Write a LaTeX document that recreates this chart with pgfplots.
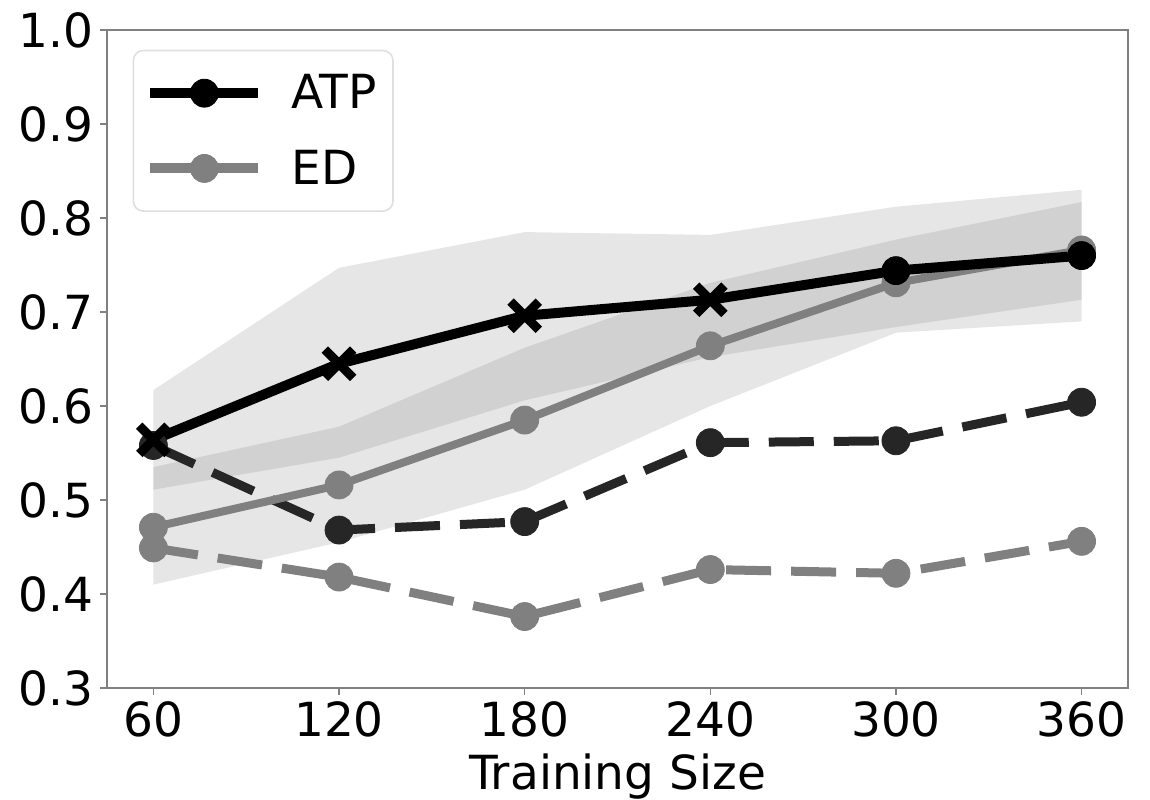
\documentclass[border=0pt]{standalone}
\usepackage{pgfplots}
\pgfplotsset{compat=1.18}
\usepgfplotslibrary{fillbetween}
\usepackage{fontspec}
\setmainfont{DejaVu Sans}
\definecolor{atpd}{HTML}{262626}
\definecolor{edg}{HTML}{808080}
\begin{document}
\begin{tikzpicture}
\begin{axis}[
  scale only axis,
  width=510.5pt, height=329pt,
  xmin=45, xmax=375, ymin=0.3, ymax=1.0,
  xtick={60,120,180,240,300,360},
  ytick={0.3,0.4,0.5,0.6,0.7,0.8,0.9,1.0},
  yticklabel style={/pgf/number format/.cd,fixed,fixed zerofill,precision=1},
  /pgf/number format/assume math mode=true,
  tick label style={font=\fontsize{23.5}{28}\selectfont},
  label style={font=\fontsize{23.5}{28}\selectfont},
  xlabel={Training Size},
  xlabel style={yshift=-1pt},
  tick align=outside,
  major tick length=3.5pt,
  axis line style={draw=gray, line width=0.8pt},
  tick style={draw=gray, line width=0.8pt},
  xtick pos=bottom, ytick pos=left,
  legend style={at={(0.025,0.97)}, anchor=north west,
    draw=gray!25, line width=0.8pt, rounded corners=5pt,
    font=\fontsize{23.5}{28}\selectfont,
    inner xsep=6pt, inner ysep=10pt, row sep=15pt,
    /tikz/every odd column/.append style={column sep=12pt}},
  legend cell align=left,
  legend image code/.code={\draw[mark repeat=2,mark phase=2] plot coordinates {(0cm,0cm)(0.95cm,0cm)(1.9cm,0cm)};},
]
% bands (mean +/- std)
\addplot[name path=au, draw=none, forget plot] coordinates {(60,0.617)(120,0.747)(180,0.785)(240,0.782)(300,0.812)(360,0.830)};
\addplot[name path=al, draw=none, forget plot] coordinates {(60,0.511)(120,0.545)(180,0.606)(240,0.652)(300,0.684)(360,0.713)};
\addplot[fill=gray, fill opacity=0.2, draw=none, forget plot] fill between[of=au and al];
\addplot[name path=eu, draw=none, forget plot] coordinates {(60,0.535)(120,0.578)(180,0.662)(240,0.731)(300,0.777)(360,0.817)};
\addplot[name path=el, draw=none, forget plot] coordinates {(60,0.410)(120,0.455)(180,0.511)(240,0.600)(300,0.678)(360,0.690)};
\addplot[fill=gray, fill opacity=0.2, draw=none, forget plot] fill between[of=eu and el];
% ED dashed
\addplot[forget plot, color=edg, line width=4.5pt, dash pattern=on 22.5pt off 10pt, mark=*, mark size=7pt, mark options={solid, line width=0.4pt}]
  coordinates {(60,0.449)(120,0.418)(180,0.376)(240,0.426)(300,0.422)(360,0.456)};
% ATP dashed
\addplot[forget plot, color=atpd, line width=4.5pt, dash pattern=on 22.5pt off 10pt, mark=*, mark size=7pt, mark options={solid, line width=0.4pt}]
  coordinates {(60,0.558)(120,0.468)(180,0.477)(240,0.561)(300,0.563)(360,0.604)};
% ED solid
\addplot[forget plot, color=edg, line width=4pt, mark=*, mark size=7pt, mark options={line width=0.4pt}]
  coordinates {(60,0.471)(120,0.516)(180,0.585)(240,0.664)(300,0.731)(360,0.766)};
% ATP solid
\addplot[forget plot, color=black, line width=5pt, mark=*, mark size=7pt, mark options={line width=0.4pt}, mark indices={5,6}]
  coordinates {(60,0.564)(120,0.645)(180,0.696)(240,0.713)(300,0.744)(360,0.760)};
\addplot[forget plot, only marks, color=black, mark=x, mark size=10pt, mark options={line width=4.5pt}, mark indices={1,2,3,4}]
  coordinates {(60,0.564)(120,0.645)(180,0.696)(240,0.713)(300,0.744)(360,0.760)};
% legend
\addlegendimage{black, line width=5pt, mark=*, mark size=7pt, mark options={line width=0.4pt}}
\addlegendentry{ATP}
\addlegendimage{edg, line width=5pt, mark=*, mark size=7pt, mark options={line width=0.4pt}}
\addlegendentry{ED}
\end{axis}
\pgfresetboundingbox
\path[use as bounding box] ([shift={(-53.5pt,-56pt)}]current axis.south west) rectangle ([shift={(11pt,15pt)}]current axis.north east);
\end{tikzpicture}
\end{document}
